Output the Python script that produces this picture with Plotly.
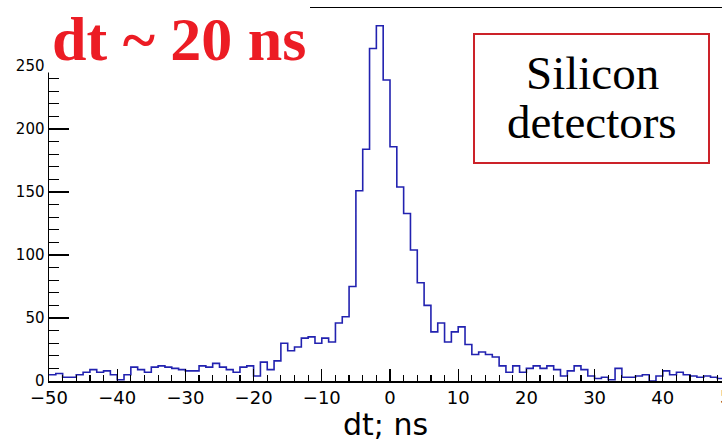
import plotly.graph_objects as go

# ---- data (1 ns bins from -50 to 50) ----
bin_low = list(range(-50, 50))
counts = [
    5, 6, 3, 3, 5, 7, 9, 7, 8, 5,          # -50 .. -41
    1, 5, 11, 9, 7, 11, 12, 11, 10, 9,     # -40 .. -31
    8, 8, 12, 11, 14, 11, 9, 7, 11, 12,    # -30 .. -21
    4, 15, 9, 16, 30, 24, 27, 34, 35, 30,  # -20 .. -11
    34, 31, 46, 51, 75, 151, 184, 264, 282, 239,  # -10 .. -1
    186, 154, 133, 104, 78, 60, 39, 46, 31, 39,   # 0 .. 9
    43, 29, 21, 23, 21, 19, 12, 7, 12, 7,  # 10 .. 19
    10, 12, 10, 12, 9, 4, 8, 12, 9, 4,     # 20 .. 29
    2, 3, 1, 10, 3, 3, 4, 5, 0, 4,         # 30 .. 39
    8, 5, 7, 5, 4, 3, 4, 3, 2, 2,          # 40 .. 49
]
x_ticks = [-50, -40, -30, -20, -10, 0, 10, 20, 30, 40, 50]
y_ticks = [0, 50, 100, 150, 200, 250]
x_title = "dt; ns"
headline = "dt ~ 20 ns"
box_lines = ["Silicon", "detectors"]

# ---- geometry ----
W, H = 722, 441
L, R, T, B = 49, 0, 8, 60
pw, ph = W - L - R, H - T - B
px_per_ns = 6.82
xmin = -50
xmax = xmin + pw / px_per_ns
ymax = 1.05 * max(counts)


def px_x(p):
    return (p - L) / pw


def px_y(p):
    return (H - B - p) / ph


def tick_text(v):
    return "\u2212" + str(-v) if v < 0 else str(v)


edges = bin_low + [bin_low[-1] + 1]
yvals = counts + [counts[-1]]

fig = go.Figure()
fig.add_trace(go.Scatter(
    x=edges, y=yvals, mode="lines", line=dict(shape="hv", color="#2222b0", width=1.6),
    hoverinfo="skip", showlegend=False,
))

axis_font = "DejaVu Sans"
shown_x = [v for v in x_ticks if v <= xmax]
fig.update_layout(
    width=W, height=H,
    margin=dict(l=L, r=R, t=T, b=B, pad=0),
    paper_bgcolor="white", plot_bgcolor="white",
    showlegend=False,
    xaxis=dict(
        range=[xmin, xmax], showgrid=False, zeroline=False, automargin=False,
        showline=True, linecolor="black", linewidth=1.5, mirror=True,
        tickmode="array", tickvals=shown_x, ticktext=[tick_text(v) for v in shown_x],
        ticks="inside", ticklen=12, tickwidth=1.2, tickcolor="black",
        minor=dict(dtick=2, tick0=0, ticks="inside", ticklen=6, tickwidth=1.2, tickcolor="black"),
        tickfont=dict(family=axis_font, size=18, color="black"),
    ),
    yaxis=dict(
        range=[0, ymax], showgrid=False, zeroline=False, automargin=False,
        showline=True, linecolor="black", linewidth=1.5, mirror=False,
        tickmode="array", tickvals=y_ticks, ticktext=[str(v) for v in y_ticks],
        ticks="inside", ticklen=20, tickwidth=1.2, tickcolor="black",
        minor=dict(dtick=10, tick0=0, ticks="inside", ticklen=10, tickwidth=1.2, tickcolor="black"),
        tickfont=dict(family=axis_font, size=15, color="black"),
    ),
)

# partially visible "50" tick label at the cropped right edge
for v in x_ticks:
    if v > xmax:
        fig.add_annotation(
            x=(v - xmin) / (xmax - xmin), y=0, xref="paper", yref="paper",
            text=tick_text(v), showarrow=False, xanchor="center", yanchor="top", yshift=-3,
            font=dict(family=axis_font, size=18, color="black"),
        )

# x-axis title
fig.add_annotation(
    x=px_x(385), y=px_y(435 - 10.4), xref="paper", yref="paper",
    text=x_title, showarrow=False, xanchor="center", yanchor="middle",
    font=dict(family=axis_font, size=30, color="black"),
)

# white background behind the headline (covers top-left of the frame)
fig.add_shape(type="rect", xref="paper", yref="paper",
              x0=px_x(46), x1=px_x(310), y0=px_y(72.5), y1=px_y(-5),
              fillcolor="white", line=dict(width=0), layer="above")

# Silicon detectors box
fig.add_shape(type="rect", xref="paper", yref="paper",
              x0=px_x(474), x1=px_x(709), y0=px_y(163), y1=px_y(34),
              fillcolor="white", line=dict(color="#cc2229", width=2), layer="above")

serif = "Liberation Serif"
fig.add_annotation(
    x=px_x(50), y=px_y(60 - 0.3375 * 62), xref="paper", yref="paper",
    text="<b>" + headline + "</b>", showarrow=False, xanchor="left", yanchor="middle",
    font=dict(family=serif, size=62, color="#ec1c24"),
)
for line, base in zip(box_lines, [89, 138]):
    fig.add_annotation(
        x=px_x(592), y=px_y(base - 0.3375 * 47), xref="paper", yref="paper",
        text=line, showarrow=False, xanchor="center", yanchor="middle",
        font=dict(family=serif, size=47, color="black"),
    )

fig.write_html(
    "out.html",
    config={"displayModeBar": False, "staticPlot": True},
    post_script="document.body.style.margin='0';document.body.style.overflow='hidden';",
)
